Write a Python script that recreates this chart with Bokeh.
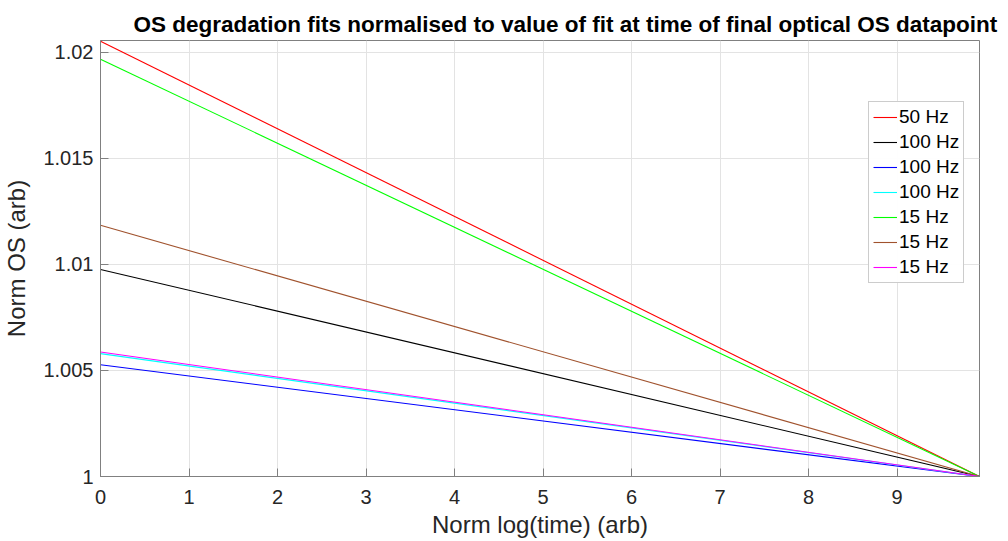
from bokeh.plotting import figure
from bokeh.models import FixedTicker, Legend, LegendItem
from bokeh.embed import file_html
from bokeh.resources import INLINE

# Data: each fit is a straight line from t=0 to the final time
x_ends = [0.0, 9.93]
labels = ["50 Hz", "100 Hz", "100 Hz", "100 Hz", "15 Hz", "15 Hz", "15 Hz"]
start_vals = [1.02052, 1.00976, 1.00527, 1.00579, 1.01967, 1.01184, 1.00587]
end_vals = [1.0, 1.0, 1.0, 1.0, 1.0, 1.0, 1.0]
colors = ["#ff0000", "#000000", "#0000ff", "#00ffff", "#00ff00", "#a0522d", "#ff00ff"]
x_ticks = [0, 1, 2, 3, 4, 5, 6, 7, 8, 9]
y_ticks = [1.0, 1.005, 1.01, 1.015, 1.02]
y_tick_labels = ["1", "1.005", "1.01", "1.015", "1.02"]

FONT = "Liberation Sans"
fw, fh = 879, 436
bl, br, bt, bb = 96, 24, 40, 60

p = figure(width=fw + bl + br, height=fh + bt + bb, frame_width=fw, frame_height=fh,
           min_border_left=bl, min_border_right=br, min_border_top=bt, min_border_bottom=bb,
           x_range=(0, 9.93), y_range=(1.0, 1.02055),
           output_backend="svg", toolbar_location=None,
           title="OS degradation fits normalised to value of fit at time of final optical OS datapoint")

p.title.text_font = FONT
p.title.text_font_size = "22.5px"
p.title.text_font_style = "bold"
p.title.align = "left"
p.title.offset = 33
p.title.standoff = 8
p.title.text_color = "#000000"

items = []
for lab, y0, y1, c in zip(labels, start_vals, end_vals, colors):
    r = p.line(x_ends, [y0, y1], line_color=c, line_width=1.1)
    items.append(LegendItem(label=lab, renderers=[r]))

leg = Legend(items=items, location=(768, 193))
leg.label_text_font = FONT
leg.label_text_font_size = "19px"
leg.label_text_color = "#000000"
leg.glyph_width = 24
leg.glyph_height = 20
leg.label_height = 20
leg.label_standoff = 2
leg.spacing = 3
leg.padding = 4
leg.margin = 0
leg.border_line_color = "#999999"
leg.border_line_width = 1
leg.background_fill_color = "white"
p.add_layout(leg, "center")

for ax in (p.xaxis[0], p.yaxis[0]):
    ax.major_label_text_font = FONT
    ax.major_label_text_font_size = "20px"
    ax.major_label_text_color = "#262626"
    ax.axis_label_text_font = FONT
    ax.axis_label_text_font_size = "24px"
    ax.axis_label_text_font_style = "normal"
    ax.axis_label_text_color = "#262626"
    ax.axis_line_color = "#808080"
    ax.major_tick_line_color = "#808080"
    ax.major_tick_in = 8
    ax.major_tick_out = 0
    ax.minor_tick_line_color = None

p.xaxis.axis_label = "Norm log(time) (arb)"
p.yaxis.axis_label = "Norm OS (arb)"
p.xaxis.ticker = FixedTicker(ticks=x_ticks)
p.yaxis.ticker = FixedTicker(ticks=y_ticks)
p.yaxis.major_label_overrides = {t: l for t, l in zip(y_ticks, y_tick_labels)}
p.xaxis.major_label_standoff = 13
p.yaxis.major_label_standoff = 7
p.xaxis.axis_label_standoff = 4
p.yaxis.axis_label_standoff = 10

p.grid.grid_line_color = "#e3e3e3"
p.grid.grid_line_width = 1
p.outline_line_color = "#808080"
p.outline_line_width = 1
p.background_fill_color = "white"
p.border_fill_color = "white"

open("out.html", "w").write(file_html(p, INLINE))
